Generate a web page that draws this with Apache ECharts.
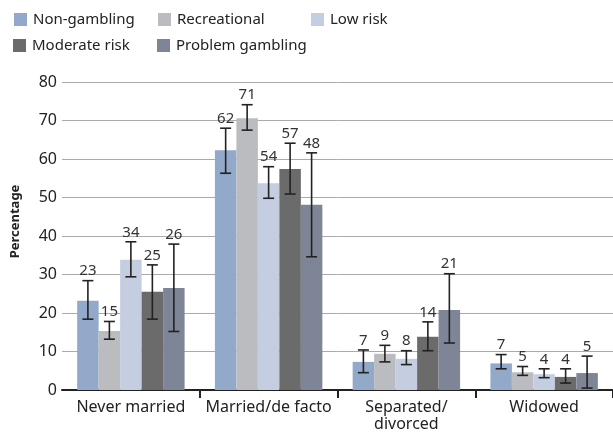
<!DOCTYPE html>
<html><head><meta charset="utf-8">
<script src="https://cdn.jsdelivr.net/npm/echarts@6/dist/echarts.min.js"></script>
<style>html,body{margin:0;padding:0;background:#fff}#c{width:613px;height:434px}</style>
</head><body><div id="c"></div>
<script>
const categories = ['Never married', 'Married/de facto', 'Separated/\ndivorced', 'Widowed'];
const seriesNames = ['Non-gambling', 'Recreational', 'Low risk', 'Moderate risk', 'Problem gambling'];
const colors = ['#93a9c9', '#bbbcc0', '#c5cde1', '#6b6b6b', '#7e8596'];
// bar values per series (one value per category)
const nonGambling = [23.2, 62.3, 7.3, 6.9];
const recreational = [15.3, 70.6, 9.4, 4.6];
const lowRisk = [33.8, 53.7, 8.1, 4.1];
const moderateRisk = [25.5, 57.4, 13.8, 3.4];
const problemGambling = [26.5, 48.1, 20.8, 4.4];
// error bar bounds
const nonGamblingLow = [18.4, 56.3, 4.5, 5.5];
const nonGamblingHigh = [28.4, 68.0, 10.4, 9.2];
const recreationalLow = [13.2, 67.5, 7.3, 3.8];
const recreationalHigh = [17.8, 74.1, 11.6, 6.1];
const lowRiskLow = [29.4, 49.8, 6.6, 3.2];
const lowRiskHigh = [38.5, 58.0, 10.2, 5.5];
const moderateRiskLow = [18.4, 50.9, 10.2, 1.8];
const moderateRiskHigh = [32.5, 64.1, 17.7, 5.5];
const problemGamblingLow = [15.2, 34.6, 12.2, 0.5];
const problemGamblingHigh = [37.9, 61.6, 30.2, 8.8];
// labels shown above error bars
const nonGamblingLabels = [23, 62, 7, 7];
const recreationalLabels = [15, 71, 9, 5];
const lowRiskLabels = [34, 54, 8, 4];
const moderateRiskLabels = [25, 57, 14, 4];
const problemGamblingLabels = [26, 48, 21, 5];
const yTicks = [0, 10, 20, 30, 40, 50, 60, 70, 80];

const values = [nonGambling, recreational, lowRisk, moderateRisk, problemGambling];
const lows = [nonGamblingLow, recreationalLow, lowRiskLow, moderateRiskLow, problemGamblingLow];
const highs = [nonGamblingHigh, recreationalHigh, lowRiskHigh, moderateRiskHigh, problemGamblingHigh];
const labels = [nonGamblingLabels, recreationalLabels, lowRiskLabels, moderateRiskLabels, problemGamblingLabels];

const FONT = '"Noto Sans", sans-serif';
const GAP = 0.22;

const errData = [];
for (let s = 0; s < 5; s++) for (let c = 0; c < categories.length; c++) {
  errData.push([c, s, lows[s][c], highs[s][c], labels[s][c]]);
}

const series = seriesNames.map((n, i) => ({
  name: n, type: 'bar', data: values[i], barGap: '0%', barCategoryGap: (GAP*100)+'%',
  itemStyle: {color: colors[i]}, silent: true
}));
series.push({
  type: 'custom', silent: true, z: 10,
  encode: {x: 0, y: [2, 3]},
  data: errData,
  renderItem: function (params, api) {
    const c = api.value(0), s = api.value(1);
    const band = api.size([1, 0])[0];
    const bw = band * (1 - GAP) / 5;
    const off = (s - 2) * bw;
    const pLo = api.coord([c, api.value(2)]);
    const pHi = api.coord([c, api.value(3)]);
    const x = pLo[0] + off;
    const hw = 5.5;
    const st = {stroke: '#222', lineWidth: 1.6};
    return {type: 'group', children: [
      {type: 'line', shape: {x1: x, y1: pLo[1], x2: x, y2: pHi[1]}, style: st},
      {type: 'line', shape: {x1: x - hw, y1: pLo[1], x2: x + hw, y2: pLo[1]}, style: st},
      {type: 'line', shape: {x1: x - hw, y1: pHi[1], x2: x + hw, y2: pHi[1]}, style: st},
      {type: 'text', x: x, y: pHi[1] - 2, style: {text: String(api.value(4)), textAlign: 'center', textVerticalAlign: 'bottom', font: '15px ' + FONT, fill: '#333'}}
    ]};
  }
});

const legendPos = [[14, 12], [158, 12], [311, 12], [13, 38], [157, 38]];
const legends = seriesNames.map((n, i) => ({
  data: [n], left: legendPos[i][0] - 5, top: legendPos[i][1] - 5, padding: 5,
  itemWidth: 13, itemHeight: 13, icon: 'rect', itemGap: 0, selectedMode: false,
  textStyle: {fontFamily: FONT, fontSize: 15, color: '#222', padding: [0, 0, 0, 1]}
}));

const chart = echarts.init(document.getElementById('c'), null, {renderer: 'canvas'});
chart.setOption({
  animation: false,
  legend: legends,
  grid: {left: 62, right: 0, top: 82, bottom: 44, containLabel: false},
  xAxis: {
    type: 'category', data: categories,
    axisLine: {lineStyle: {color: '#222', width: 2}},
    axisTick: {show: true, length: 8, lineStyle: {color: '#222', width: 2}, interval: function (i) { return i > 0; }},
    axisLabel: {fontFamily: FONT, fontSize: 16, color: '#222', margin: 9, lineHeight: 17, interval: 0}
  },
  yAxis: {
    type: 'value', min: yTicks[0], max: yTicks[yTicks.length - 1], interval: yTicks[1] - yTicks[0],
    name: 'Percentage', nameLocation: 'middle', nameGap: 40, nameRotate: 90,
    nameTextStyle: {fontFamily: FONT, fontSize: 13, fontWeight: 'bold', color: '#222', padding: [0, 0, 0, 29]},
    axisLine: {show: false}, axisTick: {show: false},
    axisLabel: {fontFamily: FONT, fontSize: 16, color: '#222', margin: 5},
    splitLine: {lineStyle: {color: '#aaa', width: 1}}
  },
  series: series
});
</script>
</body></html>
